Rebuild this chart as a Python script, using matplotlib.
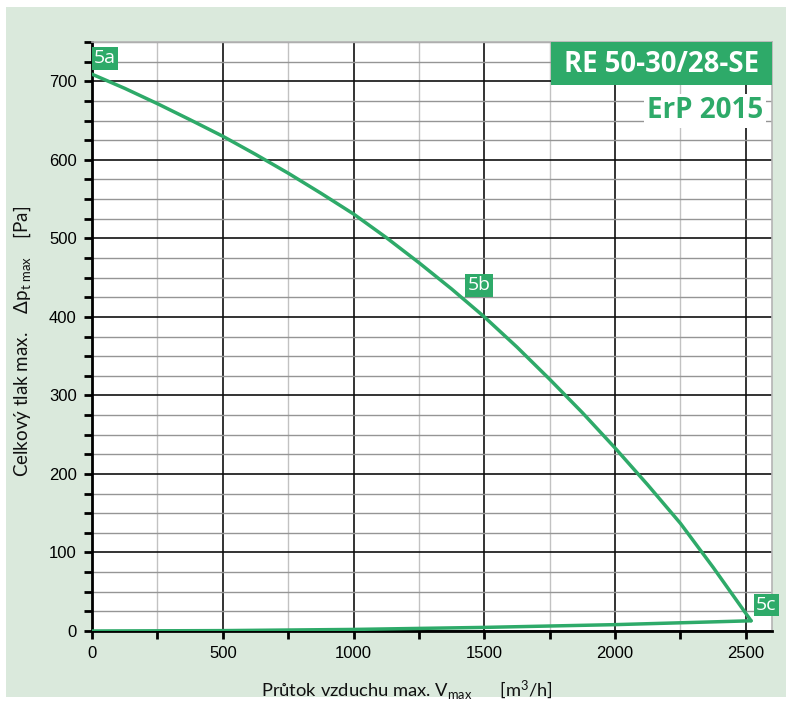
import matplotlib
matplotlib.use("Agg")
import matplotlib.pyplot as plt
from matplotlib.patches import Rectangle
from matplotlib.ticker import MultipleLocator
import numpy as np

# ---- data ----
fan_q = [0, 125, 250, 375, 500, 625, 750, 875, 1000, 1125, 1250, 1375, 1500,
         1625, 1750, 1875, 2000, 2125, 2250, 2375, 2520]
fan_p = [709, 691, 671.5, 651, 630, 607, 583, 557.5, 531, 501, 469, 435.5, 400,
         361.5, 320.5, 278, 233, 186, 137, 81, 13]
sys_q = [0, 500, 1000, 1500, 2000, 2520]
sys_p = [0, 0.5, 2.0, 4.6, 8.1, 13]
point_labels = ["5a", "5b", "5c"]
point_pos = [(50, 729), (1480, 440), (2578, 33)]
title = "RE 50-30/28-SE"
subtitle = "ErP 2015"
x_ticks = [0, 500, 1000, 1500, 2000, 2500]
y_ticks = [0, 100, 200, 300, 400, 500, 600, 700]

GREEN = "#2eaa69"
BG = "#dae9dc"

plt.rcParams['mathtext.fontset'] = 'custom'
plt.rcParams['mathtext.rm'] = 'Lato'
plt.rcParams['mathtext.it'] = 'Lato'

fig = plt.figure(figsize=(7.92, 7.03), dpi=100, facecolor="white")
fig.patches.append(Rectangle((6/792, 6/703), 780/792, 690/703, transform=fig.transFigure,
                             facecolor=BG, edgecolor="none", zorder=-10))
ax = fig.add_axes([92/792, 1-631/703, 680/792, 589/703])
ax.set_facecolor("white")
ax.set_xlim(0, 2600)
ax.set_ylim(0, 750)

ax.xaxis.set_major_locator(MultipleLocator(500))
ax.xaxis.set_minor_locator(MultipleLocator(250))
ax.yaxis.set_major_locator(MultipleLocator(100))
ax.yaxis.set_minor_locator(MultipleLocator(25))
ax.set_xticks(x_ticks)
ax.set_yticks(y_ticks)

ax.xaxis.grid(True, which="minor", color="#c2c2c2", lw=1.0)
ax.yaxis.grid(True, which="minor", color="#959595", lw=1.0)
ax.grid(which="major", color="#111111", lw=1.2)
ax.set_axisbelow(True)

for s in ["top", "right"]:
    ax.spines[s].set_color("#b4b4b4")
    ax.spines[s].set_linewidth(1.2)
for s in ["left", "bottom"]:
    ax.spines[s].set_color("black")
    ax.spines[s].set_linewidth(2.0)

ax.tick_params(which="both", direction="out", length=6, width=2, color="black",
               labelsize=12, pad=5)
for lab in ax.get_xticklabels() + ax.get_yticklabels():
    lab.set_family("Liberation Sans")

ax.plot(fan_q, fan_p, color=GREEN, lw=2.5, solid_joinstyle="round", solid_capstyle="round", zorder=3)
ax.plot(sys_q, sys_p, color=GREEN, lw=2.5, solid_joinstyle="round", solid_capstyle="round", zorder=3)

for lab, (x, y) in zip(point_labels, point_pos):
    ax.text(x, y, lab, color="white", fontsize=14, family="Open Sans", ha="center", va="center",
            bbox=dict(boxstyle="square,pad=0.12", facecolor=GREEN, edgecolor="none"),
            zorder=5, clip_on=False)

fig.patches.append(Rectangle((551/792, 1-85/703), 221/792, 43/703, transform=fig.transFigure,
                             facecolor=GREEN, edgecolor="none", zorder=5))
fig.text(662/792, 1-65/703, title, color="white", fontsize=19.8, fontweight="bold",
         family="Open Sans", ha="center", va="center", zorder=6)
fig.text(763/792, 1-111/703, subtitle, color=GREEN, fontsize=20, fontweight="bold",
         family="Open Sans", ha="right", va="center", zorder=6,
         bbox=dict(boxstyle="square,pad=0.1", facecolor="white", edgecolor="none"))

fig.text(407/792, 1-690/703, r"Průtok vzduchu max. V$_{\mathrm{max}}$      [m$^{3}$/h]",
         fontsize=13.2, family="Lato", ha="center", va="center", color="#111111")
fig.text(22/792, 1-341/703, r"Celkový tlak max.    Δp$_{\mathrm{t\ max}}$    [Pa]",
         fontsize=13.5, family="Lato", ha="center", va="center", rotation=90, color="#111111")

fig.savefig("out.png", dpi=100, facecolor="white")
